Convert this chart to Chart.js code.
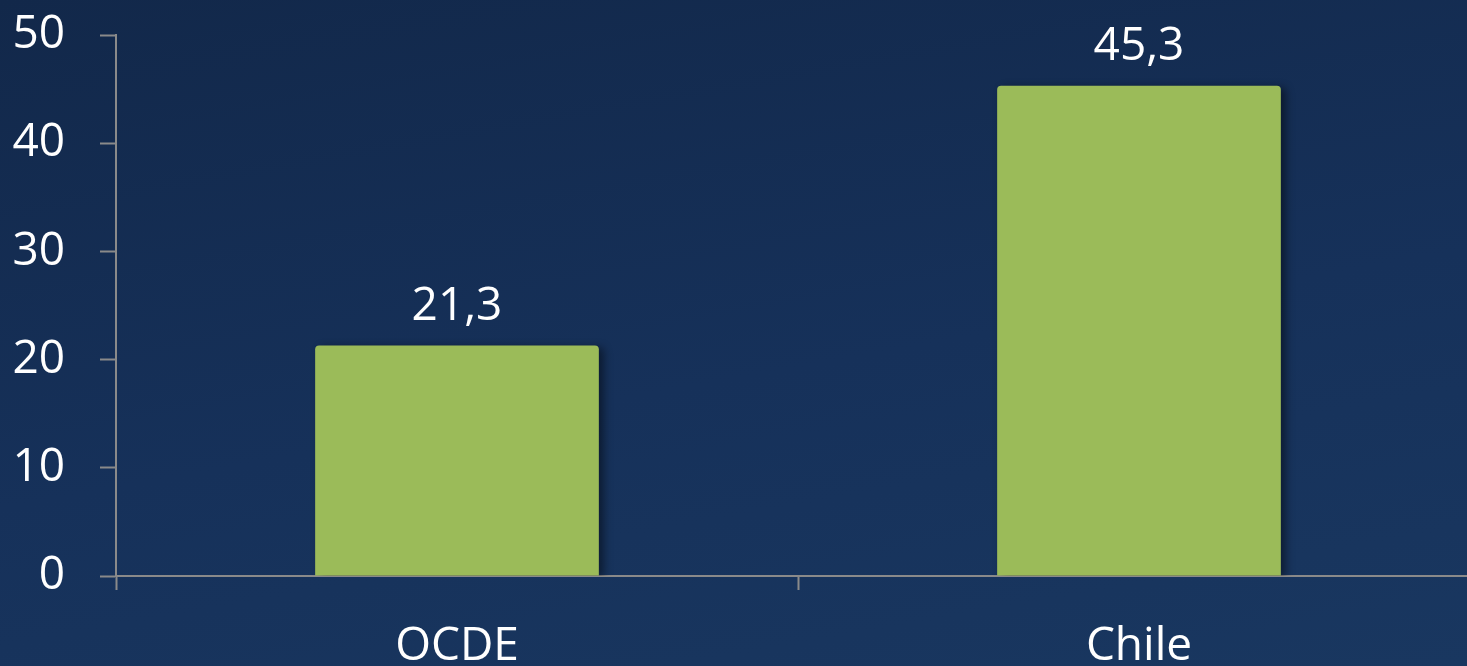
<!DOCTYPE html>
<html>
<head>
<meta charset="utf-8">
<script src="https://cdn.jsdelivr.net/npm/chart.js@4"></script>
<style>
  html, body { margin: 0; padding: 0; overflow: hidden; }
  body {
    width: 1467px;
    height: 666px;
    background: linear-gradient(170deg, #12284a 0%, #16315a 55%, #193760 100%);
  }
  #wrap { position: relative; width: 1480px; height: 666px; }
</style>
</head>
<body>
<div id="wrap"><canvas id="chart"></canvas></div>
<script>
// chart data
const categories = ["OCDE", "Chile"];
const values = [21.3, 45.3];
const yMin = 0;
const yMax = 50;
const yStep = 10;

const AXIS_COLOR = "#8a8a8a";
const BAR_COLOR = "#9bbb59";
const FONT = { family: "'Open Sans', sans-serif", size: 46 };

function formatValue(v) {
  return v.toFixed(1).replace(".", ",");
}

// soft shadow on the bars (like the office chart style)
const barShadow = {
  id: "barShadow",
  beforeDatasetsDraw(chart) {
    const ctx = chart.ctx;
    ctx.save();
    ctx.shadowColor = "rgba(0, 0, 0, 0.45)";
    ctx.shadowBlur = 8;
    ctx.shadowOffsetX = 5;
    ctx.shadowOffsetY = 2;
  },
  afterDatasetsDraw(chart) {
    chart.ctx.restore();
  },
};

// value labels above the bars
const valueLabels = {
  id: "valueLabels",
  afterDatasetsDraw(chart) {
    const ctx = chart.ctx;
    const meta = chart.getDatasetMeta(0);
    ctx.save();
    ctx.fillStyle = "#ffffff";
    ctx.font = FONT.size + "px " + FONT.family;
    ctx.textAlign = "center";
    ctx.textBaseline = "alphabetic";
    meta.data.forEach((bar, i) => {
      ctx.fillText(formatValue(values[i]), bar.x, bar.y - 26);
    });
    ctx.restore();
  },
};

new Chart(document.getElementById("chart"), {
  type: "bar",
  data: {
    labels: categories,
    datasets: [
      {
        data: values,
        backgroundColor: BAR_COLOR,
        borderWidth: 0,
        borderRadius: { topLeft: 4, topRight: 4, bottomLeft: 0, bottomRight: 0 },
        borderSkipped: false,
        barPercentage: 0.416,
        categoryPercentage: 1,
      },
    ],
  },
  options: {
    responsive: true,
    maintainAspectRatio: false,
    animation: false,
    layout: { padding: { top: 35, right: 0, bottom: 0, left: 0 } },
    plugins: {
      legend: { display: false },
      tooltip: { enabled: false },
    },
    scales: {
      x: {
        offset: true,
        grid: {
          offset: true,
          drawOnChartArea: false,
          drawTicks: true,
          tickLength: 14,
          tickWidth: 2,
          color: AXIS_COLOR,
        },
        border: { display: true, color: AXIS_COLOR, width: 2 },
        ticks: { color: "#ffffff", font: FONT, padding: 29 },
        afterFit(scale) {
          scale.height = 90;
          scale.paddingLeft = 0;
          scale.paddingRight = 0;
        },
      },
      y: {
        min: yMin,
        max: yMax,
        grid: {
          drawOnChartArea: false,
          drawTicks: true,
          tickLength: 16,
          tickWidth: 2,
          color: AXIS_COLOR,
        },
        border: { display: true, color: AXIS_COLOR, width: 2 },
        ticks: { stepSize: yStep, color: "#ffffff", font: FONT, padding: 35 },
        afterFit(scale) {
          scale.width = 116;
          scale.paddingTop = 0;
          scale.paddingBottom = 0;
        },
      },
    },
  },
  plugins: [barShadow, valueLabels],
});
</script>
</body>
</html>
